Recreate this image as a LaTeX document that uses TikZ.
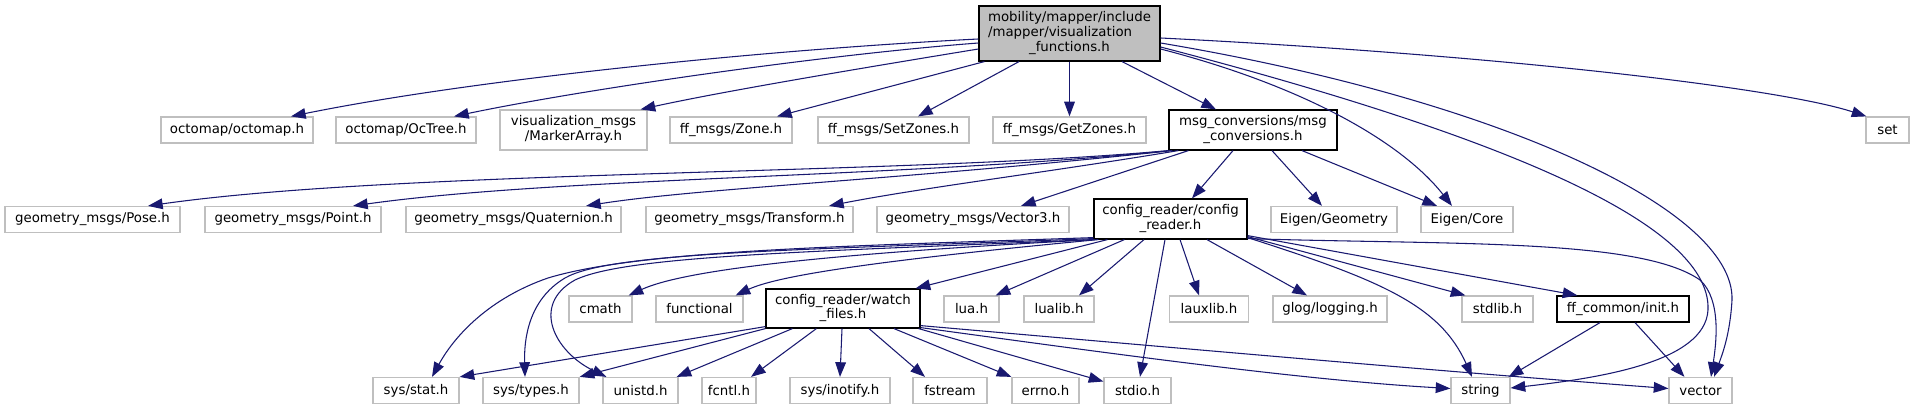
\documentclass[tikz,border=0pt]{standalone}
\usepackage{fontspec}
\setmainfont{DejaVu Sans}
\usetikzlibrary{arrows.meta,calc}
\definecolor{edgeblue}{HTML}{191970}
\definecolor{leafgray}{HTML}{BFBFBF}
\newcommand{\twoln}[2]{\begin{tabular}{@{}l@{}}#1\\\multicolumn{1}{@{}c@{}}{#2}\end{tabular}}
\tikzset{leaf/.style={draw=leafgray,fill=white,line width=0.9pt,inner sep=1pt,
  minimum height=19.5pt,font=\fontsize{10}{11}\selectfont},
docd/.style={leaf,draw=black},
dep/.style={draw=edgeblue,line width=0.8pt,-{Triangle[length=11pt,width=8pt]}}}

\begin{document}
\begin{tikzpicture}[x=0.75pt,y=-0.75pt]
\useasboundingbox (0,0) rectangle (1914,409);
\node[docd,fill=leafgray,minimum width=181*0.75pt,minimum height=55*0.75pt] (root) at (1069.5,33.5)
  {\begin{tabular}{@{}l@{}}mobility/mapper/include\\/mapper/visualization\\\multicolumn{1}{@{}c@{}}{\_functions.h}\end{tabular}};
% first row
\foreach \nm/\cx/\w/\txt in {octo/237/152/{octomap/octomap.h},octree/406/140/{octomap/OcTree.h},
  zone/731/122/{ff\_msgs/Zone.h},setz/893.5/151/{ff\_msgs/SetZones.h},
  getz/1069.5/153/{ff\_msgs/GetZones.h},set/1887.5/43/set}
  \node[leaf,minimum width=\w*0.75pt] (\nm) at (\cx,130) {\txt};
\node[leaf,minimum width=147*0.75pt,minimum height=30pt] (marker) at (573.5,130)
  {\twoln{visualization\_msgs}{/MarkerArray.h}};
\node[docd,minimum width=168*0.75pt,minimum height=30pt] (msgc) at (1253,130)
  {\twoln{msg\_conversions/msg}{\_conversions.h}};
% second row
\foreach \nm/\cx/\w/\txt in {pose/92.5/175/{geometry\_msgs/Pose.h},point/293/176/{geometry\_msgs/Point.h},
  quat/513.5/215/{geometry\_msgs/Quaternion.h},transf/749.5/207/{geometry\_msgs/Transform.h},
  vec3/973/192/{geometry\_msgs/Vector3.h},egeo/1334/126/{Eigen/Geometry},ecore/1467/92/{Eigen/Core}}
  \node[leaf,minimum width=\w*0.75pt] (\nm) at (\cx,219.5) {\txt};
\node[docd,minimum width=153*0.75pt,minimum height=30pt] (cfg) at (1170.5,219)
  {\twoln{config\_reader/config}{\_reader.h}};
% third row
\foreach \nm/\cx/\w/\txt in {cmath/600.5/63/cmath,func/699.5/87/functional,lua/971.5/55/lua.h,
  lualib/1059/70/lualib.h,lauxlib/1209/79/lauxlib.h,glog/1330/114/{glog/logging.h},stdlib/1497.5/71/stdlib.h}
  \node[leaf,minimum width=\w*0.75pt] (\nm) at (\cx,309) {\txt};
\node[docd,minimum width=154*0.75pt,minimum height=29.25pt] (watch) at (843,308.5)
  {\twoln{config\_reader/watch}{\_files.h}};
\node[docd,minimum width=132*0.75pt] (ffc) at (1623,309) {ff\_common/init.h};
% fourth row
\foreach \nm/\cx/\w/\txt in {sstat/416/86/{sys/stat.h},stypes/531/96/{sys/types.h},unistd/640.5/75/unistd.h,
  fcntl/729/54/fcntl.h,inotify/840/100/{sys/inotify.h},fstream/950/74/fstream,errno/1045.5/67/errno.h,
  stdio/1137.5/67/stdio.h,string/1480.5/59/string,vector/1700.5/63/vector}
  \node[leaf,minimum width=\w*0.75pt] (\nm) at (\cx,390.5) {\txt};
% from the root
\draw[dep] ($(root.west)+(0,5.5)$) .. controls (760,50) and (470,80) .. ($(octo.north)+(54,0)$);
\draw[dep] ($(root.west)+(0,9.5)$) .. controls (820,55) and (580,90) .. ($(octree.north)+(48,0)$);
\draw[dep] ($(root.west)+(0,15.5)$) .. controls (850,70) and (720,92) .. ($(marker.north east)+(-7,0)$);
\draw[dep] ($(root.south west)+(6,0)$) -- ($(zone.north)+(46,0)$);
\draw[dep] ($(root.south)+(-50.5,0)$) -- ($(setz.north)+(24.5,0)$);
\draw[dep] (root.south) -- (getz.north);
\draw[dep] ($(root.south)+(52.5,0)$) -- ($(msgc.north)+(-37,0)$);
\draw[dep] ($(root.east)+(0,4.5)$) .. controls (1500,55) and (1780,88) .. ($(set.north west)+(1,0)$);
\draw[dep] ($(root.east)+(0,15.5)$) .. controls (1300,85) and (1400,140) .. ($(ecore.north)+(-15,0)$);
\draw[dep] ($(root.east)+(0,13.5)$) .. controls (1480,130) and (1712,220) .. (1708,310)
  .. controls (1705,362) and (1600,378) .. ($(string.east)+(0,-2.5)$);
\draw[dep] ($(root.east)+(0,9.5)$) .. controls (1500,100) and (1735,210) .. (1732,300)
  .. controls (1730,335) and (1722,355) .. ($(vector.north)+(13.5,0)$);
% from msg_conversions
\draw[dep] (msgc.south west) .. controls (900,175) and (400,170) .. ($(pose.north)+(55.5,0)$);
\draw[dep] ($(msgc.south west)+(2,0)$) .. controls (900,178) and (560,177) .. ($(point.north)+(60,0)$);
\draw[dep] ($(msgc.south west)+(4,0)$) .. controls (900,180) and (700,188) .. ($(quat.north)+(72.5,0)$);
\draw[dep] ($(msgc.south west)+(10,0)$) .. controls (1050,172) and (920,188) .. ($(transf.north)+(79.5,0)$);
\draw[dep] ($(msgc.south west)+(20,0)$) -- ($(vec3.north)+(48,0)$);
\draw[dep] ($(msgc.south)+(-20,0)$) -- ($(cfg.north)+(21.5,0)$);
\draw[dep] ($(msgc.south)+(19,0)$) -- ($(egeo.north)+(-12,0)$);
\draw[dep] ($(msgc.south)+(49,0)$) -- ($(ecore.north)+(-30,0)$);
% from config_reader
\draw[dep] ($(cfg.south west)+(0,-2)$) .. controls (850,246) and (640,250) .. (548,278)
  .. controls (490,298) and (455,335) .. ($(sstat.north)+(16,0)$);
\draw[dep] ($(cfg.south west)+(0,-1)$) .. controls (800,250) and (610,252) .. (565,278)
  .. controls (528,300) and (524,340) .. ($(stypes.north)+(-6,0)$);
\draw[dep] (cfg.south west) .. controls (800,252) and (625,256) .. (575,280)
  .. controls (530,305) and (555,352) .. ($(unistd.north west)+(4,0)$);
\draw[dep] ($(cfg.south west)+(2,0)$) .. controls (800,255) and (680,272) .. ($(cmath.north east)+(-4,0)$);
\draw[dep] ($(cfg.south west)+(5,0)$) .. controls (860,262) and (775,277) .. ($(func.north east)+(-8,0)$);
\draw[dep] ($(cfg.south west)+(14,0)$) -- ($(watch.north east)+(-5,0)$);
\draw[dep] ($(cfg.south west)+(31,0)$) -- ($(lua.north east)+(-4,0)$);
\draw[dep] ($(cfg.south)+(-26.5,0)$) -- ($(lualib.north)+(20,0)$);
\draw[dep] ($(cfg.south)+(9.5,0)$) -- ($(lauxlib.north)+(-10,0)$);
\draw[dep] ($(cfg.south)+(36.5,0)$) -- ($(glog.north)+(-23,0)$);
\draw[dep] ($(cfg.south)+(-5.5,0)$) -- ($(stdio.north)+(2.5,0)$);
\draw[dep] ($(cfg.south east)+(0,-3)$) -- ($(stdlib.north west)+(4,0)$);
\draw[dep] ($(cfg.south east)+(0,-4)$) -- ($(ffc.north west)+(21,0)$);
\draw[dep] ($(cfg.south east)+(0,-2)$) .. controls (1380,280) and (1440,305) .. ($(string.north)+(-8.5,0)$);
\draw[dep] ($(cfg.south east)+(0,-1)$) .. controls (1450,245) and (1640,238) .. (1700,280)
  .. controls (1722,300) and (1716,345) .. ($(vector.north)+(10.5,0)$);
% from watch_files
\draw[dep] ($(watch.south west)+(0,-2)$) -- (sstat.north east);
\draw[dep] (watch.south west) -- (stypes.north east);
\draw[dep] ($(watch.south west)+(27,0)$) -- ($(unistd.north east)+(-2,0)$);
\draw[dep] ($(watch.south west)+(51,0)$) -- ($(fcntl.north)+(22,0)$);
\draw[dep] ($(watch.south)+(-1,0)$) -- (inotify.north);
\draw[dep] ($(watch.south)+(26,0)$) -- ($(fstream.north)+(-25,0)$);
\draw[dep] ($(watch.south)+(51,0)$) -- (errno.north west);
\draw[dep] ($(watch.south east)+(-2,0)$) -- ($(stdio.west)+(0,-9)$);
\draw[dep] ($(watch.south east)+(0,-1)$) .. controls (1100,352) and (1300,380) .. ($(string.west)+(0,-2)$);
\draw[dep] ($(watch.south east)+(0,-3)$) .. controls (1200,350) and (1450,372) .. ($(vector.west)+(0,-2)$);
% from ff_common
\draw[dep] ($(ffc.south)+(-23,0)$) -- ($(string.north east)+(-2,0)$);
\draw[dep] ($(ffc.south)+(12,0)$) -- ($(vector.north)+(-16,0)$);
\end{tikzpicture}
\end{document}
